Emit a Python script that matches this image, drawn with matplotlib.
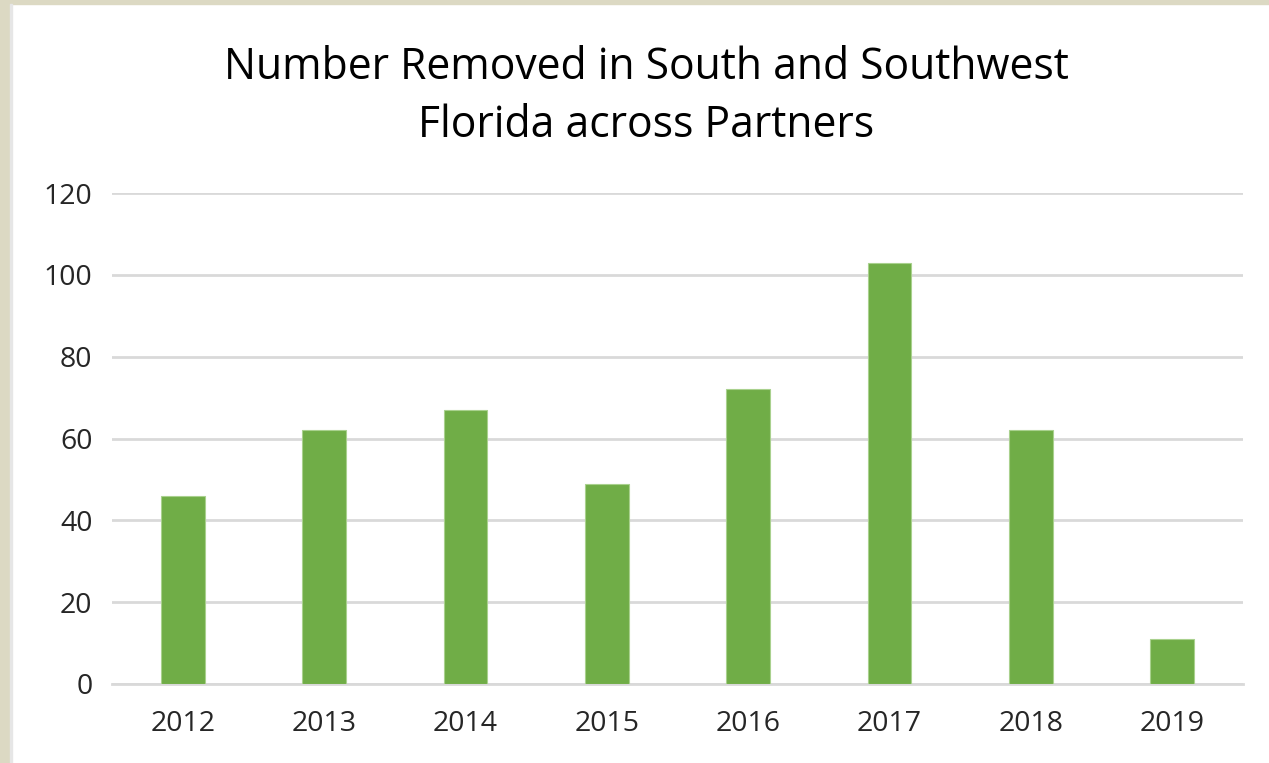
import matplotlib
matplotlib.use("Agg")
import matplotlib.pyplot as plt
from matplotlib.patches import Rectangle

years = ["2012", "2013", "2014", "2015", "2016", "2017", "2018", "2019"]
removed = [46, 62, 67, 49, 72, 103, 62, 11]
yticks = [0, 20, 40, 60, 80, 100, 120]
title = "Number Removed in South and Southwest\nFlorida across Partners"

W, H = 1269, 763
fig = plt.figure(figsize=(W / 100, H / 100), dpi=100)
fig.patch.set_facecolor("white")
# beige frame at left and top
fig.add_artist(Rectangle((0, 0), 10 / W, 1, transform=fig.transFigure, color="#DCD9C3", zorder=0))
fig.add_artist(Rectangle((0, 1 - 4 / H), 1, 4 / H, transform=fig.transFigure, color="#DCD9C3", zorder=0))
fig.add_artist(Rectangle((10 / W, 0), 2 / W, 1 - 4 / H, transform=fig.transFigure, color="#E6E6E6", zorder=0))

ax = fig.add_axes([112 / W, 1 - 684 / H, (1243 - 112) / W, (684 - 193) / H])
x = range(len(years))
ax.bar(x, removed, width=0.31, color="#70AD47", edgecolor="#A9D18E", linewidth=0.8, zorder=3)
ax.set_xlim(-0.5, len(years) - 0.5)
ax.set_ylim(0, 120)
ax.set_yticks(yticks)
ax.set_xticks(list(x))
ax.set_xticklabels(years)
ax.grid(axis="y", color="#D9D9D9", linewidth=2, zorder=0)
ax.set_axisbelow(True)
for s in ["top", "right", "left"]:
    ax.spines[s].set_visible(False)
ax.spines["bottom"].set_color("#D9D9D9")
ax.spines["bottom"].set_linewidth(2)
ax.tick_params(axis="both", length=0, labelsize=20.5)
ax.tick_params(axis="y", pad=14)
ax.tick_params(axis="x", pad=19)
for lab in ax.get_xticklabels() + ax.get_yticklabels():
    lab.set_fontfamily("Open Sans")
    lab.set_color("#262626")
fig.text(646 / W, 1 - 96.5 / H, title, ha="center", va="center", fontsize=30.7,
         fontfamily="Open Sans", color="#000000", linespacing=1.39)
fig.savefig("out.png", dpi=100)
